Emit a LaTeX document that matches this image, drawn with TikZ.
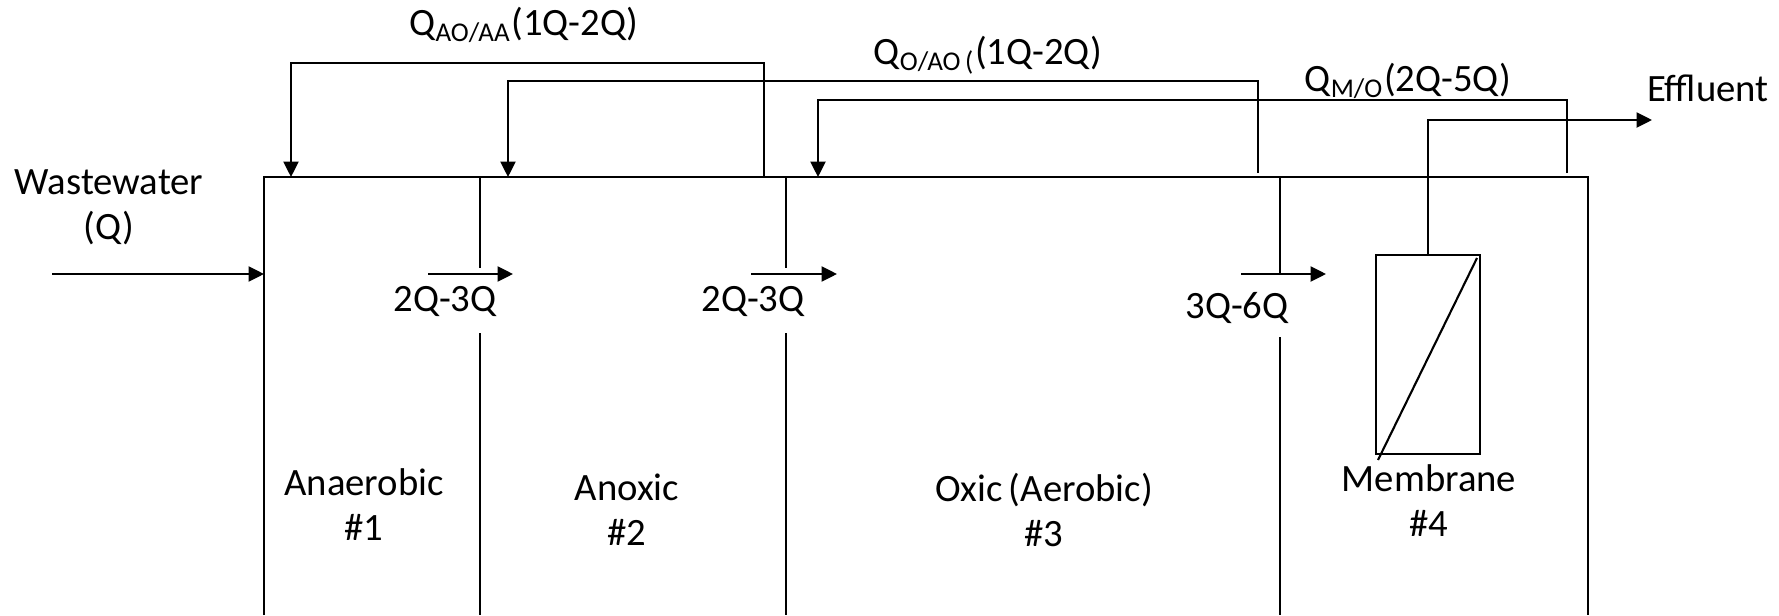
\documentclass[tikz,border=0pt]{standalone}
\usepackage{fontspec}
\setmainfont{Carlito}
\usetikzlibrary{arrows.meta, positioning}
\tikzset{
    wall/.style={line width=0.6pt, black},
    flow/.style={-{Triangle[length=4.4pt, width=4.3pt]}, line width=0.6pt, black},
    lbl/.style={inner sep=0pt, align=center, font=\fontsize{11}{12.8}\selectfont},
    modulebox/.style={draw, line width=0.6pt, inner sep=0pt, minimum width=1.04cm, minimum height=1.99cm}
}
\begin{document}
\begin{tikzpicture}[x=0.01cm, y=-0.01cm]
        \useasboundingbox (0,0) rectangle (1779,615);
        % tank and compartment walls
        \draw [wall] (264,615) -- (264,177) -- (1588,177) -- (1588,615);
        \draw [wall] (480,177) -- (480,268) (480,333) -- (480,615);
        \draw [wall] (786,177) -- (786,268) (786,333) -- (786,615);
        \draw [wall] (1280,177) -- (1280,274) (1280,337) -- (1280,615);
        % membrane module
        \node [modulebox] (module) at (1428,354.5) {};
        \draw [wall] (1378,460) -- (1477,258);
        % feed
        \node [lbl] (feed) at (109,207) {Wastewater\\(Q)};
        \coordinate (feedin) at (52,274);
        \coordinate (tankin) at (264,274);
        \draw [flow] (feedin) -- (tankin);
        % forward flows between compartments
        \coordinate (a1) at (428,274); \coordinate (b1) at (513,274);
        \coordinate (a2) at (751,274); \coordinate (b2) at (837,274);
        \coordinate (a3) at (1241,274); \coordinate (b3) at (1326,274);
        \draw [flow] (a1) -- (b1);
        \draw [flow] (a2) -- (b2);
        \draw [flow] (a3) -- (b3);
        \node [lbl] (f1) at (445,302) {2Q-3Q};
        \node [lbl] (f2) at (753,302) {2Q-3Q};
        \node [lbl] (f3) at (1237,308) {3Q-6Q};
        % recycle lines
        \coordinate (r1) at (764,177); \coordinate (d1) at (291,177);
        \coordinate (r2) at (1258,173); \coordinate (d2) at (508,177);
        \coordinate (r3) at (1567,173); \coordinate (d3) at (818,177);
        \draw [flow] (r1) -- (764,63) -| (d1);
        \draw [flow] (r2) -- (1258,81) -| (d2);
        \draw [flow] (r3) -- (1567,100) -| (d3);
        \node [lbl] (q1) at (524,25) {Q\textsubscript{AO/AA}(1Q-2Q)};
        \node [lbl] (q2) at (988,55) {Q\textsubscript{O/AO\,(}(1Q-2Q)};
        \node [lbl] (q3) at (1408,81) {Q\textsubscript{M/O}(2Q-5Q)};
        % permeate
        \coordinate (out) at (1652,120);
        \draw [flow] (module.north) |- (out);
        \node [lbl] (effluent) at (1708,88) {Effluent};
        % compartment names
        \node [lbl] (anaerobic) at (364,505) {Anaerobic\\\#1};
        \node [lbl] (anoxic) at (627,510) {Anoxic\\\#2};
        \node [lbl] (oxic) at (1044,510) {Oxic\,(Aerobic)\\\#3};
        \node [lbl] (membrane) at (1429,501) {Membrane\\\#4};
    \end{tikzpicture}
\end{document}
